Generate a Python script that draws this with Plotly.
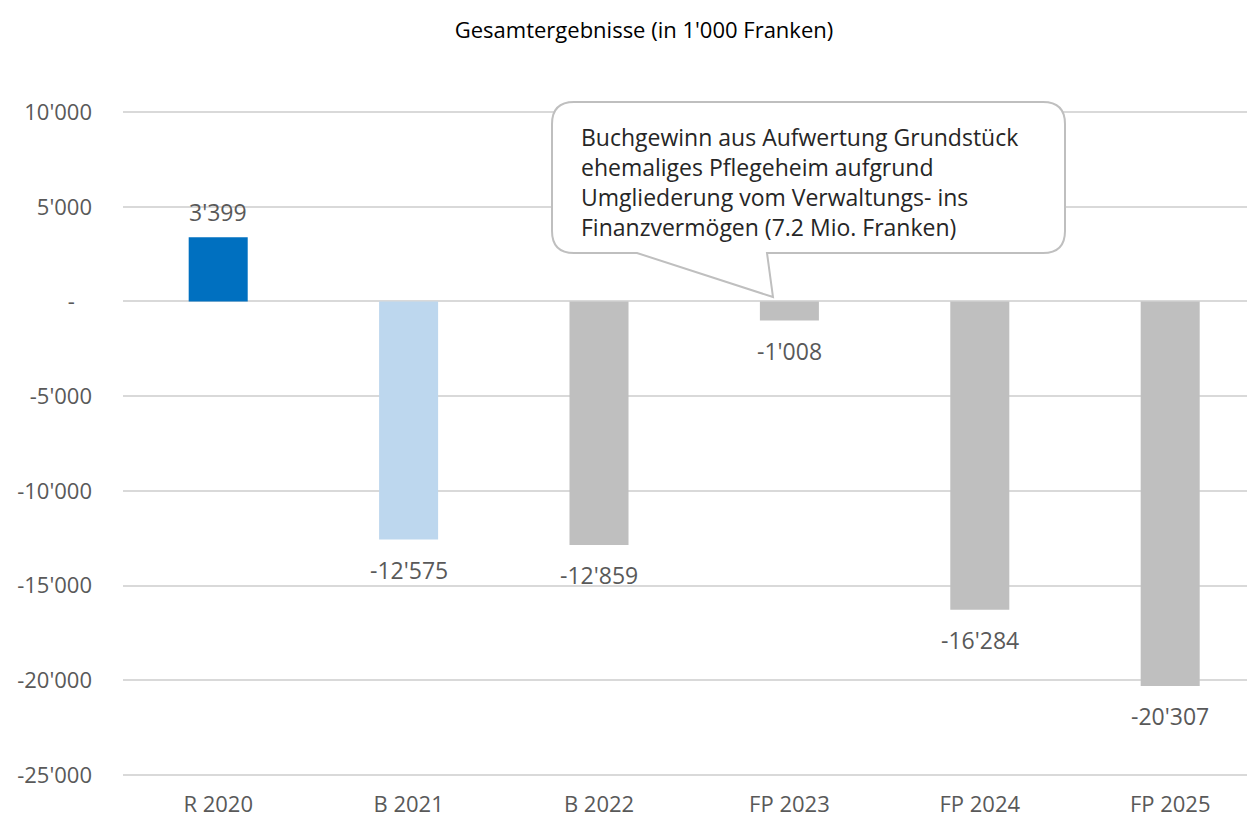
import plotly.graph_objects as go

# ---- data ----
categories = ["R 2020", "B 2021", "B 2022", "FP 2023", "FP 2024", "FP 2025"]
values = [3399, -12575, -12859, -1008, -16284, -20307]
value_labels = ["3'399", "-12'575", "-12'859", "-1'008", "-16'284", "-20'307"]
y_tickvals = [10000, 5000, 0, -5000, -10000, -15000, -20000, -25000]
y_ticktext = ["10'000", "5'000", "-\u00a0\u00a0\u00a0", "-5'000", "-10'000", "-15'000", "-20'000", "-25'000"]
title_text = "Gesamtergebnisse (in 1'000 Franken)"
callout_lines = [
    "Buchgewinn aus Aufwertung Grundstück",
    "ehemaliges Pflegeheim aufgrund",
    "Umgliederung vom Verwaltungs- ins",
    "Finanzvermögen (7.2 Mio. Franken)",
]

# ---- styles / layout (page pixels; the page body has an 8px margin) ----
bar_colors = ["#0070C0", "#BDD7EE", "#BFBFBF", "#BFBFBF", "#BFBFBF", "#BFBFBF"]
FONT = "Open Sans, Noto Sans, sans-serif"
LABEL_COLOR = "#595959"
OFF = 8
W, H = 1255 - OFF, 820 - OFF
PLOT_L, PLOT_T, PLOT_B = 123, 111, 776          # page coords
ML, MR, MT, MB = PLOT_L - OFF, 0, PLOT_T - OFF, H - (PLOT_B - OFF)
PW, PH = W - ML - MR, H - MT - MB
Y_RANGE = [-25060, 10060]
CAT_PX = 190.4


def px(x, y):
    """page pixel -> paper coords"""
    fx, fy = x - OFF, y - OFF
    return (fx - ML) / PW, (H - MB - fy) / PH


fig = go.Figure()
fig.add_trace(go.Bar(
    x=categories, y=values, marker=dict(color=bar_colors, line=dict(width=0)),
    width=0.31, hoverinfo="skip",
))

# value labels
for c, v, t in zip(categories, values, value_labels):
    fig.add_annotation(x=c, y=v, xref="x", yref="y", text=t, showarrow=False,
                       xanchor="center", yanchor="middle",
                       yshift=25 if v >= 0 else -30,
                       font=dict(family=FONT, size=23, color=LABEL_COLOR))

# callout box (rounded rect with a tail)
x0, x1, y0, y1, r = 552, 1065, 102, 253, 22
tail = [(767, 253), (773, 297), (637, 253)]


def P(x, y):
    a, b = px(x, y)
    return f"{a:.5f},{b:.5f}"


path = (
    f"M {P(x0 + r, y0)} L {P(x1 - r, y0)} Q {P(x1, y0)} {P(x1, y0 + r)} "
    f"L {P(x1, y1 - r)} Q {P(x1, y1)} {P(x1 - r, y1)} "
    f"L {P(*tail[0])} L {P(*tail[1])} L {P(*tail[2])} "
    f"L {P(x0 + r, y1)} Q {P(x0, y1)} {P(x0, y1 - r)} "
    f"L {P(x0, y0 + r)} Q {P(x0, y0)} {P(x0 + r, y0)} Z"
)
fig.add_shape(type="path", path=path, xref="paper", yref="paper",
              fillcolor="white", line=dict(color="#BFBFBF", width=2), layer="above")

line_y = [137, 167, 197, 227]
for t, yy in zip(callout_lines, line_y):
    a, b = px(579, yy)
    fig.add_annotation(x=a, y=b, xref="paper", yref="paper", text=t, showarrow=False,
                       xanchor="left", yanchor="middle",
                       font=dict(family=FONT, size=23, color="#262626"))

fig.update_layout(
    width=W, height=H, margin=dict(l=ML, r=MR, t=MT, b=MB, autoexpand=False),
    paper_bgcolor="white", plot_bgcolor="white", showlegend=False,
    title=dict(text=title_text, x=(644 - OFF) / W, xanchor="center",
               y=1 - (30 - OFF) / H, yanchor="middle",
               font=dict(family=FONT, size=22, color="#000000")),
    font=dict(family=FONT),
)
fig.update_xaxes(range=[-0.5, -0.5 + PW / CAT_PX], showgrid=False, showline=False, zeroline=False,
                 tickfont=dict(family=FONT, size=22, color=LABEL_COLOR), ticks="",
                 ticklabelstandoff=13, automargin=False)
fig.update_yaxes(range=Y_RANGE, tickvals=y_tickvals, ticktext=y_ticktext,
                 showgrid=True, gridcolor="#D9D9D9", gridwidth=2, zeroline=True,
                 zerolinecolor="#D9D9D9", zerolinewidth=2, showline=False, ticks="",
                 tickfont=dict(family=FONT, size=22, color=LABEL_COLOR),
                 ticklabelstandoff=30, automargin=False)

fig.write_html("out.html")
